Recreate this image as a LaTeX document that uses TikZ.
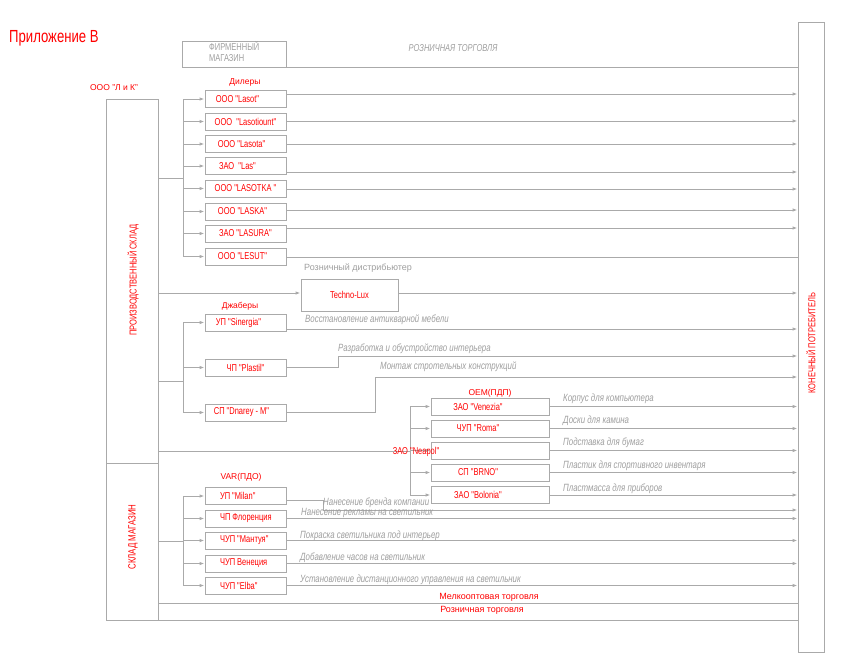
\documentclass[tikz,border=0pt]{standalone}
\usepackage{fontspec}
\setmainfont{Liberation Sans}
\newfontfamily\narrowf{Liberation Sans}[FakeStretch=0.75]
\usetikzlibrary{arrows.meta}
\definecolor{lg}{RGB}{170,170,170}
\definecolor{tg}{RGB}{158,158,158}
\newcommand{\mysize}[1]{\fontsize{#1}{#1}\selectfont}
\newcommand{\lsh}{\hspace*{-24pt}}
\newcommand{\vtxt}[1]{\makebox[51pt][l]{#1}}
\begin{document}
\begin{tikzpicture}[x=1pt,y=-1pt,
  cn/.style={draw=lg, line width=1pt},
  arr/.style={-{Latex[length=5pt,width=3.5pt]}},
  bx/.style={draw=lg, line width=1pt, minimum width=81pt, minimum height=17pt, inner sep=0pt, text=red, font=\narrowf\mysize{10}},
  gl/.style={text=tg, font=\narrowf\mysize{10.5}\itshape, anchor=west, inner sep=0pt},
  rl/.style={text=red, font=\mysize{8.5}, inner sep=0pt},
  vt/.style={text=red, rotate=90, inner sep=0pt}]
\useasboundingbox (0,0) rectangle (853,661);

% title and top
\node[rl, font=\narrowf\mysize{17.5}, anchor=west] (title) at (9,38) {Приложение В};
\node[bx, minimum width=104pt, minimum height=25pt] (fm) at (234,54.5) {};
\node[text=tg, font=\narrowf\fontsize{10}{10.5}\selectfont, align=left, anchor=west, inner sep=0pt] (fmt) at (209,51.5) {ФИРМЕННЫЙ\\МАГАЗИН};
\node[text=tg, font=\narrowf\mysize{10}\itshape, inner sep=0pt] (rt) at (453,48) {РОЗНИЧНАЯ ТОРГОВЛЯ};

% consumer
\node[bx, minimum width=26pt, minimum height=629pt] (cons) at (811,337.5) {};
\node[vt, font=\narrowf\mysize{10}] (ct) at (811,343) {КОНЕЧНЫЙ ПОТРЕБИТЕЛЬ};

% left warehouses
\node[bx, minimum width=52pt, minimum height=364pt] (ps) at (132,281) {};
\node[vt, font=\narrowf\mysize{10}] (pst) at (133,280) {ПРОИЗВОДСТВЕННЫЙ СКЛАД};
\node[bx, minimum width=52pt, minimum height=157pt] (sm) at (132,541.5) {};
\node[vt, font=\narrowf\mysize{10.5}] (smt) at (133,537) {СКЛАД МАГАЗИН};
\node[rl] (lk) at (114,88) {ООО "Л и К"};

% dealers
\node[rl] (dl) at (245,82) {Дилеры};
\node[bx] (d1) at (245.5,99) {\hspace*{-16pt}ООО "Lasot"};
\node[bx] (d2) at (245.5,121.5) {ООО \ "Lasotiount"};
\node[bx] (d3) at (245.5,144) {\hspace*{-8pt}ООО "Lasota"};
\node[bx] (d4) at (245.5,166) {\hspace*{-16pt}ЗАО \ "Las"};
\node[bx] (d5) at (245.5,188.5) {ООО "LASOTKA "};
\node[bx] (d6) at (245.5,211.5) {\hspace*{-6pt}ООО "LASKA"};
\node[bx] (d7) at (245.5,233.5) {ЗАО "LASURA"};
\node[bx] (d8) at (245.5,256.5) {\hspace*{-6pt}ООО "LESUT"};

% techno-lux
\node[text=tg, font=\mysize{9}, anchor=west, inner sep=0pt] (rdl) at (304,268) {Розничный дистрибьютер};
\node[bx, minimum width=97pt, minimum height=32pt] (tl) at (349.5,295) {\raisebox{-2pt}{Techno-Lux}};

% jobbers
\node[rl] (jl) at (240,306) {Джаберы};
\node[bx] (j1) at (245.5,322.5) {\hspace*{-14pt}УП "Sinergia"};
\node[bx] (j2) at (245.5,367.5) {ЧП "Plastil"};
\node[bx] (j3) at (245.5,412.5) {\hspace*{-8pt}СП "Dnarey - M"};

% OEM
\node[rl] (ol) at (490,393) {OEM(ПДП)};
\node[bx, minimum width=118pt] (o1) at (490,406.5) {\lsh ЗАО "Venezia"};
\node[bx, minimum width=118pt] (o2) at (490,428.5) {\lsh ЧУП "Roma"};
\node[bx, minimum width=118pt] (o3) at (490,450.5) {};
\node[bx, minimum width=118pt] (o4) at (490,472.5) {\lsh СП "BRNO"};
\node[bx, minimum width=118pt] (o5) at (490,495) {\lsh ЗАО "Bolonia"};

% VAR
\node[rl] (vl) at (241,477) {VAR(ПДО)};
\node[bx] (v1) at (245.5,496) {\vtxt{УП "Milan"}};
\node[bx] (v2) at (245.5,518.5) {\vtxt{ЧП Флоренция}};
\node[bx] (v3) at (245.5,540.5) {\vtxt{ЧУП "Мантуя"}};
\node[bx] (v4) at (245.5,563.5) {\vtxt{ЧУП Венеция}};
\node[bx] (v5) at (245.5,585.5) {\vtxt{ЧУП "Elba"}};

% connectors
\draw[cn] (fm.south east) -- (cons.west |- fm.south);

\coordinate (db) at (183,178);
\draw[cn] (ps.east |- db) -- (db);
\draw[cn] (db |- d1.west) -- (db |- d8.west);
\foreach \n in {d1,d2,d3,d4,d5,d6,d7,d8} \draw[cn,arr] (db |- \n.west) -- (\n.west);
\foreach \n/\y in {d1/94,d2/121,d3/144,d4/172,d5/189,d6/210,d7/228}
  \draw[cn,arr] (\n.east |- 0,\y) -- (cons.west |- 0,\y);
\draw[cn] (d8.east |- 0,257) -- (cons.west |- 0,257);

\draw[cn,arr] (ps.east |- 0,293) -- (tl.west |- 0,293);
\draw[cn,arr] (tl.east |- 0,293) -- (cons.west |- 0,293);

\coordinate (jb) at (183,381);
\draw[cn] (ps.east |- jb) -- (jb);
\draw[cn] (jb |- j1.west) -- (jb |- j3.west);
\foreach \n in {j1,j2,j3} \draw[cn,arr] (jb |- \n.west) -- (\n.west);
\draw[cn,arr] (j1.east |- 0,329) -- (cons.west |- 0,329);
\draw[cn,arr] (j2.east) -- ++(52,0) |- (cons.west |- 0,356);
\draw[cn,arr] (j3.east) -- ++(89,0) |- (cons.west |- 0,377);

\coordinate (ob) at (410,451);
\draw[cn] (ps.east |- ob) -- (ob);
\draw[cn] (ob |- o1.west) -- (ob |- o5.west);
\foreach \n in {o1,o2,o3,o4,o5} {
  \draw[cn,arr] (ob |- \n.west) -- (\n.west);
  \draw[cn,arr] (\n.east) -- (cons.west |- \n.east);
}
\node[rl, font=\narrowf\mysize{10}] (np) at (416,452) {ЗАО "Neapol"};

\coordinate (vb) at (183,541);
\draw[cn] (sm.east |- vb) -- (vb);
\draw[cn] (vb |- v1.west) -- (vb |- v5.west);
\foreach \n in {v1,v2,v3,v4,v5} \draw[cn,arr] (vb |- \n.west) -- (\n.west);
\draw[cn,arr] (v1.east |- 0,500) -- ++(37,0) |- (cons.west |- 0,510);
\foreach \n in {v2,v3,v4,v5} \draw[cn,arr] (\n.east) -- (cons.west |- \n.east);

\draw[cn] (sm.east |- 0,603) -- (cons.west |- 0,603);
\draw[cn] (sm.south east) -- (cons.west |- sm.south);

% gray labels
\node[gl] (g1) at (305,320) {Восстановление антикварной мебели};
\node[gl] (g2) at (338,349) {Разработка и обустройство интерьера};
\node[gl] (g3) at (380,367) {Монтаж стротельных конструкций};
\node[gl] (g4) at (563,399) {Корпус для компьютера};
\node[gl] (g5) at (563,421) {Доски для камина};
\node[gl] (g6) at (563,443) {Подставка для бумаг};
\node[gl] (g7) at (563,466) {Пластик для спортивного инвентаря};
\node[gl] (g8) at (563,489) {Пластмасса для приборов};
\node[gl] (g9) at (323,503) {Нанесение бренда компании};
\node[gl] (g10) at (301,513) {Нанесение рекламы на светильник};
\node[gl] (g11) at (300,536) {Покраска светильника под интерьер};
\node[gl] (g12) at (300,558) {Добавление часов на светильник};
\node[gl] (g13) at (300,580) {Установление дистанционного управления на светильник};

% bottom labels
\node[rl, font=\mysize{9}] (mo) at (489,597) {Мелкооптовая торговля};
\node[rl, font=\mysize{9}] (rz) at (482,610) {Розничная торговля};
\end{tikzpicture}
\end{document}
